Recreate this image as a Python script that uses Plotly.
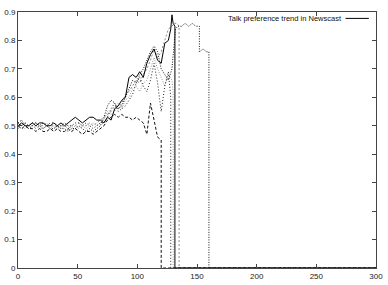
import plotly.graph_objects as go

# common time grid (step 3) for the early part of every run
T = list(range(0, 130, 3))  # 0..129

# Series values
a_vals = [0.50, 0.51, 0.50, 0.50, 0.51, 0.50, 0.51, 0.51, 0.50, 0.50, 0.51, 0.50, 0.51, 0.50, 0.51,
          0.52, 0.53, 0.52, 0.51, 0.52, 0.53, 0.53, 0.52, 0.52, 0.51,
          0.53, 0.52, 0.56, 0.57, 0.59, 0.60, 0.67, 0.68, 0.67, 0.69, 0.67, 0.72, 0.75, 0.77, 0.73,
          0.72, 0.79, 0.80]
a_tail_x = [128, 129, 130, 131.5, 131.5, 300]
a_tail_y = [0.84, 0.89, 0.86, 0.85, 0.0, 0.0]

b_vals = [0.50, 0.49, 0.50, 0.49, 0.49, 0.48, 0.49, 0.48, 0.48, 0.49, 0.48, 0.49, 0.48, 0.48, 0.49,
          0.48, 0.49, 0.48, 0.47, 0.48, 0.48, 0.47, 0.48, 0.49, 0.50,
          0.52, 0.53, 0.54, 0.53, 0.54, 0.53, 0.53, 0.52, 0.53, 0.52, 0.51, 0.47, 0.58, 0.52, 0.46]
b_tail_x = [120, 120, 300]
b_tail_y = [0.45, 0.0, 0.0]

c_vals = [0.51, 0.52, 0.50, 0.49, 0.50, 0.51, 0.50, 0.49, 0.50, 0.49, 0.49, 0.50, 0.49, 0.49, 0.48,
          0.49, 0.49, 0.50, 0.49, 0.48, 0.49, 0.48, 0.49, 0.50, 0.53,
          0.57, 0.59, 0.58, 0.56, 0.57, 0.60, 0.63, 0.66, 0.65, 0.68, 0.70, 0.73, 0.76, 0.78, 0.76,
          0.70, 0.68, 0.66, 0.70]
c_tail_x = [132, 134, 137, 140, 143, 146, 149, 152, 152, 155, 158, 160, 160, 300]
c_tail_y = [0.84, 0.85, 0.85, 0.86, 0.85, 0.86, 0.85, 0.85, 0.76, 0.77, 0.76, 0.76, 0.0, 0.0]

d_vals = [0.49, 0.50, 0.51, 0.50, 0.50, 0.49, 0.50, 0.50, 0.51, 0.50, 0.50, 0.49, 0.50, 0.50, 0.49,
          0.50, 0.50, 0.51, 0.50, 0.50, 0.51, 0.50, 0.51, 0.52, 0.53,
          0.54, 0.55, 0.57, 0.56, 0.58, 0.61, 0.62, 0.64, 0.66, 0.65, 0.68, 0.70, 0.73, 0.77, 0.74,
          0.76, 0.80, 0.84, 0.85]
d_tail_x = [131, 133, 135, 135, 300]
d_tail_y = [0.86, 0.86, 0.85, 0.0, 0.0]

e_vals = [0.50, 0.49, 0.49, 0.50, 0.49, 0.50, 0.49, 0.49, 0.50, 0.49, 0.50, 0.50, 0.49, 0.50, 0.50,
          0.49, 0.50, 0.49, 0.50, 0.49, 0.50, 0.51, 0.50, 0.51, 0.52,
          0.55, 0.54, 0.55, 0.58, 0.56, 0.59, 0.60, 0.63, 0.64, 0.62, 0.65, 0.66, 0.70, 0.74, 0.70,
          0.67, 0.64, 0.68]
e_tail_x = [129, 130, 130, 300]
e_tail_y = [0.66, 0.62, 0.0, 0.0]

f_vals = [0.51, 0.50, 0.51, 0.50, 0.51, 0.51, 0.50, 0.51, 0.50, 0.51, 0.51, 0.50, 0.50, 0.51, 0.50,
          0.50, 0.51, 0.51, 0.50, 0.51, 0.50, 0.49, 0.50, 0.51, 0.51,
          0.53, 0.56, 0.58, 0.55, 0.56, 0.57, 0.59, 0.61, 0.65, 0.67, 0.64, 0.62, 0.66, 0.72, 0.65,
          0.55, 0.64, 0.69]
f_tail_x = [128, 128, 300]
f_tail_y = [0.60, 0.0, 0.0]

legend_label = "Talk preference trend in Newscast"

series = [
    (e_vals, e_tail_x, e_tail_y, "#999999", "1px,1.5px"),
    (d_vals, d_tail_x, d_tail_y, "#8a8a8a", "2px,2px"),
    (f_vals, f_tail_x, f_tail_y, "#222222", "1px,2px"),
    (c_vals, c_tail_x, c_tail_y, "#111111", "1px,1.5px"),
    (b_vals, b_tail_x, b_tail_y, "#111111", "3px,2px"),
    (a_vals, a_tail_x, a_tail_y, "#000000", "solid"),
]

fig = go.Figure()
for vals, tx, ty, col, dash in series:
    xs = T[:len(vals)] + tx
    ys = list(vals) + ty
    fig.add_trace(go.Scatter(x=xs, y=ys, mode="lines",
                             line=dict(color=col, width=1, dash=dash),
                             showlegend=False, hoverinfo="skip"))

axis_common = dict(showline=True, linecolor="#444444", linewidth=1, mirror="ticks",
                   ticks="inside", ticklen=4, tickcolor="#444444", showgrid=False,
                   zeroline=False, automargin=False,
                   tickfont=dict(family="Liberation Sans, Arial", size=8, color="#222222"))

fig.update_xaxes(range=[0, 300], dtick=50, tick0=0, **axis_common)
fig.update_yaxes(range=[0, 0.9], dtick=0.1, tick0=0, **axis_common)

# gnuplot-style key: text then line sample on the right
fig.add_annotation(xref="paper", yref="paper", x=0.91, y=0.975, xanchor="right", yanchor="middle",
                   text=legend_label, showarrow=False,
                   font=dict(family="Liberation Sans, Arial", size=7.5, color="#111111"))
fig.add_shape(type="line", xref="paper", yref="paper", x0=0.915, x1=0.98, y0=0.975, y1=0.975,
              line=dict(color="black", width=1))

fig.update_layout(width=388, height=285, margin=dict(l=18, r=12, t=12, b=17),
                  plot_bgcolor="white", paper_bgcolor="white")

fig.write_html("out.html", config={"displayModeBar": False},
               post_script="document.body.style.margin='0';document.body.style.padding='0';")
